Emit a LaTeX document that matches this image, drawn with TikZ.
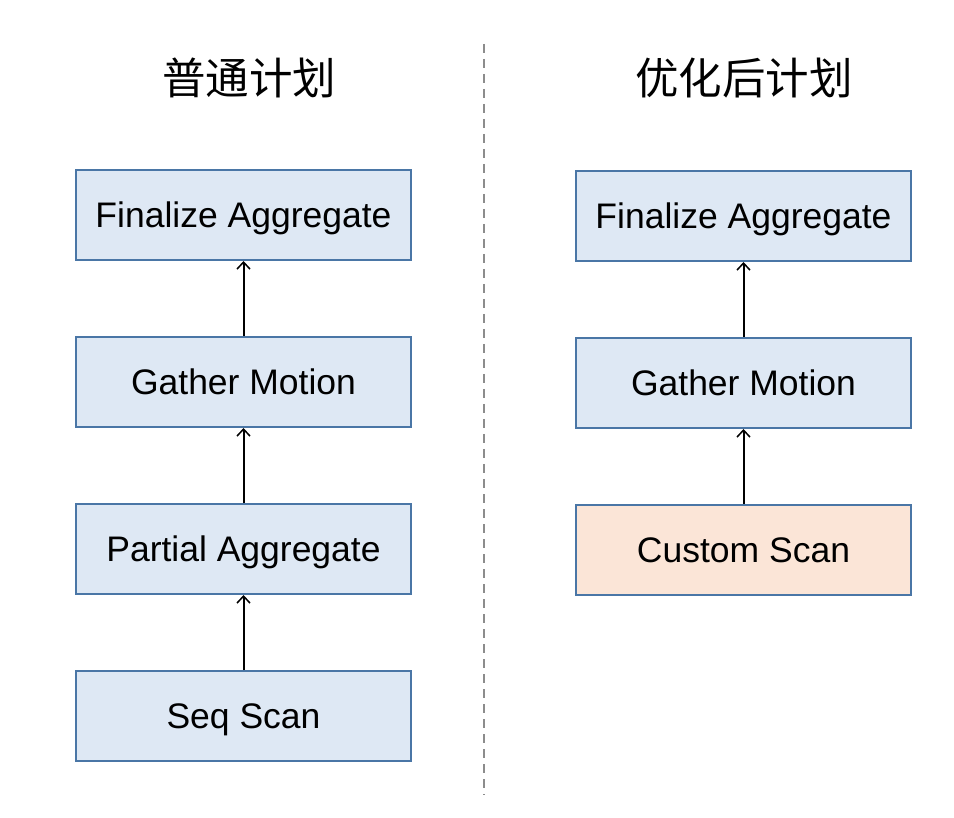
\documentclass[tikz,border=0pt]{standalone}
\usepackage{fontspec}
\setmainfont{Liberation Sans}
\newfontfamily\cjk{Noto Sans CJK SC}
\usetikzlibrary{arrows.meta}
\definecolor{boxfill}{HTML}{DEE8F4}
\definecolor{boxline}{HTML}{4A76A6}
\definecolor{orangefill}{HTML}{FBE5D7}
\begin{document}
\begin{tikzpicture}[x=1pt,y=-1pt,
  planbox/.style={draw=boxline,line width=2pt,fill=boxfill,minimum width=335pt,minimum height=90pt,inner sep=0pt,text height=25pt,text depth=0pt,font=\fontsize{35.5}{40}\selectfont},
  custbox/.style={planbox,fill=orangefill},
  flow/.style={-{Straight Barb[length=7pt,width=13pt,line width=1.5pt]},line width=2pt,black},
  title/.style={font=\cjk\fontsize{43.5}{48}\selectfont,inner sep=0pt}]
\useasboundingbox (0,0) rectangle (954,818);
\node[title] (t1) at (249,78) {普通计划};
\node[title] (t2) at (744,78) {优化后计划};
\coordinate (d1) at (484,44);
\coordinate (d2) at (484,795);
\draw[gray!90,line width=1.3pt,dash pattern=on 9pt off 6pt] (d1) -- (d2);
\node[planbox] (l1) at (243.5,215) {Finalize Aggregate};
\node[planbox] (l2) at (243.5,382) {Gather Motion};
\node[planbox] (l3) at (243.5,549) {Partial Aggregate};
\node[planbox] (l4) at (243.5,716) {Seq Scan};
\node[planbox] (r1) at (743.5,216) {Finalize Aggregate};
\node[planbox] (r2) at (743.5,383) {Gather Motion};
\node[custbox] (r3) at (743.5,550) {Custom Scan};
\draw[flow] (l4.north) -- (l3.south);
\draw[flow] (l3.north) -- (l2.south);
\draw[flow] (l2.north) -- (l1.south);
\draw[flow] (r3.north) -- (r2.south);
\draw[flow] (r2.north) -- (r1.south);
\end{tikzpicture}
\end{document}
